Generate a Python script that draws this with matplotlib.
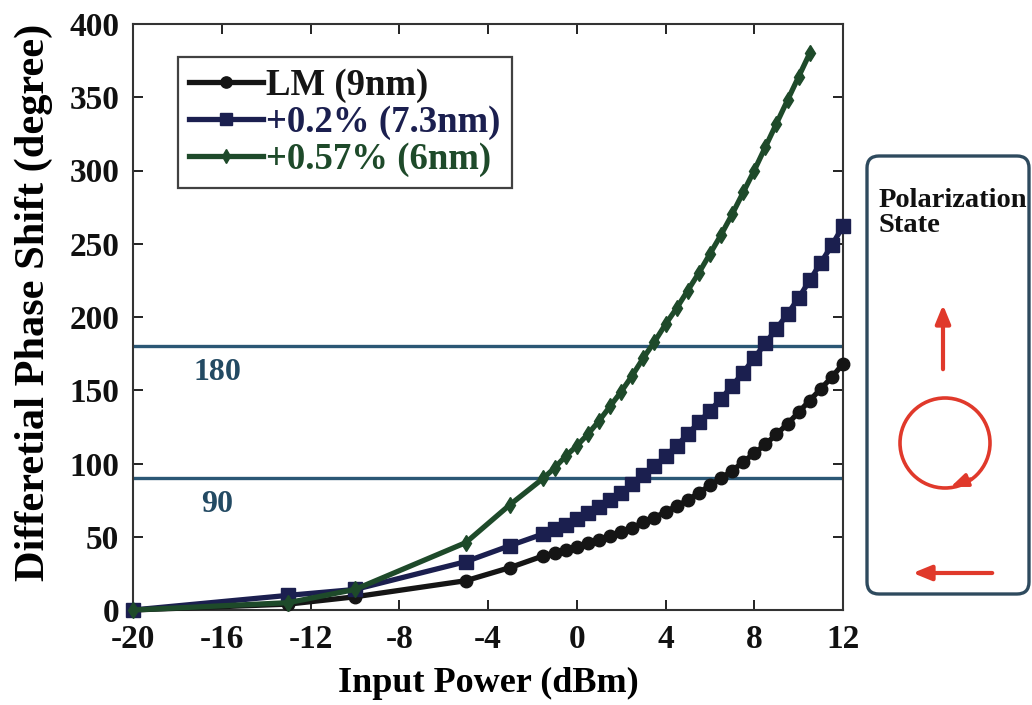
import matplotlib
matplotlib.use("Agg")
import matplotlib.pyplot as plt
from matplotlib.patches import FancyBboxPatch, Circle

# ---------------- data ----------------
lm_power = [-20, -13, -10, -5, -3, -1.5, -1, -0.5, 0, 0.5, 1, 1.5, 2, 2.5, 3, 3.5, 4,
            4.5, 5, 5.5, 6, 6.5, 7, 7.5, 8, 8.5, 9, 9.5, 10, 10.5, 11, 11.5, 12]
lm_shift = [0, 4, 9, 20, 29, 37, 39, 41, 43, 45.5, 48, 50.5, 53, 56, 60, 63, 67,
            71, 75, 80, 85, 90, 95, 101, 107, 113, 120, 127, 135, 143, 151, 159, 168]

s02_power = [-20, -13, -10, -5, -3, -1.5, -1, -0.5, 0, 0.5, 1, 1.5, 2, 2.5, 3, 3.5, 4,
             4.5, 5, 5.5, 6, 6.5, 7, 7.5, 8, 8.5, 9, 9.5, 10, 10.5, 11, 11.5, 12]
s02_shift = [0, 10, 14, 33, 44, 52, 55, 58, 62, 66, 70, 75, 80, 86, 92, 98, 105,
             112, 120, 128, 136, 144, 153, 162, 172, 182, 192, 202, 213, 225, 237, 249, 262]

s057_power = [-20, -13, -10, -5, -3, -1.5, -1, -0.5, 0, 0.5, 1, 1.5, 2, 2.5, 3, 3.5, 4,
              4.5, 5, 5.5, 6, 6.5, 7, 7.5, 8, 8.5, 9, 9.5, 10, 10.5]
s057_shift = [0, 5, 14, 46, 72, 90, 97, 105, 112, 120, 129, 139, 149, 160, 172, 183, 195,
              206, 218, 230, 243, 256, 270, 285, 300, 316, 332, 348, 364, 380]

series_labels = ["LM (9nm)", "+0.2% (7.3nm)", "+0.57% (6nm)"]
ref_levels = [180, 90]
ref_labels = ["180", "90"]
x_ticks = [-20, -16, -12, -8, -4, 0, 4, 8, 12]
y_ticks = [0, 50, 100, 150, 200, 250, 300, 350, 400]

# ---------------- style ----------------
plt.rcParams['font.family'] = ['Liberation Serif', 'DejaVu Serif']
plt.rcParams['font.weight'] = 'bold'
plt.rcParams['axes.unicode_minus'] = False

W, H = 1032, 705
fig = plt.figure(figsize=(W / 100, H / 100), dpi=100)
fig.patch.set_facecolor('white')

ax = fig.add_axes([133 / W, 1 - 610 / H, (843 - 133) / W, (610 - 24) / H])

c_lm = '#151515'
c_02 = '#1b1f4f'
c_057 = '#1e4a2a'
c_ref = '#2b5775'

for y in ref_levels:
    ax.axhline(y, color=c_ref, lw=2.4, zorder=1)
for lab, ty in zip(ref_labels, [162, 72]):
    ax.text(-16.2, ty, lab, color='#234a63', fontsize=23, fontweight='bold',
            ha='center', va='center')

ax.plot(lm_power, lm_shift, color=c_lm, lw=3.8, marker='o', ms=9,
        mfc=c_lm, mec=c_lm, clip_on=False, zorder=3, label=series_labels[0])
ax.plot(s02_power, s02_shift, color=c_02, lw=3.8, marker='s', ms=9.5,
        mfc=c_02, mec=c_02, clip_on=False, zorder=4, label=series_labels[1])
ax.plot(s057_power, s057_shift, color=c_057, lw=3.8, marker='d', ms=8,
        mfc=c_057, mec=c_057, clip_on=False, zorder=5, label=series_labels[2])

ax.set_xlim(-20, 12)
ax.set_ylim(0, 400)
ax.set_xticks(x_ticks)
ax.set_yticks(y_ticks)
ax.tick_params(direction='in', length=7, width=1.3, top=True, right=True,
               labelsize=24, pad=10, colors='#111111')
for lbl in ax.get_xticklabels() + ax.get_yticklabels():
    lbl.set_fontweight('bold')
for sp in ax.spines.values():
    sp.set_linewidth(1.5)
    sp.set_color('#333333')

ax.set_xlabel('Input Power (dBm)', fontsize=26, fontweight='bold')
ax.set_ylabel('Differetial Phase Shift (degree)', fontsize=30.5, fontweight='bold')
ax.yaxis.set_label_coords(-0.113, (610 - 302) / 586)
ax.xaxis.set_label_coords(0.5, -0.098)

leg = ax.legend(loc='upper left', bbox_to_anchor=(45 / 710, 1 - 33 / 586),
                fontsize=26.5, frameon=True, fancybox=False, borderpad=0.3,
                labelspacing=0.05, handlelength=2.0, handletextpad=0.1,
                borderaxespad=0, markerscale=0.9)
leg.get_frame().set_edgecolor('#111111')
leg.get_frame().set_linewidth(1.6)
for t, c in zip(leg.get_texts(), [c_lm, c_02, c_057]):
    t.set_color(c)
    t.set_fontweight('bold')

# ---------------- polarization state panel ----------------
ov = fig.add_axes([0, 0, 1, 1], facecolor='none')
ov.set_xlim(0, W)
ov.set_ylim(H, 0)
ov.axis('off')

box = FancyBboxPatch((867, 156), 162, 438, boxstyle='round,pad=0,rounding_size=12',
                     fc='none', ec='#2e4a5e', lw=2.4)
ov.add_patch(box)
ov.text(879, 188, 'Polarization\nState', fontsize=20.5, fontweight='bold',
        ha='left', va='top', color='#111111', linespacing=1.0)

red = '#e0392b'
ov.annotate('', xy=(943, 302), xytext=(943, 372),
            arrowprops=dict(arrowstyle='-|>,head_length=1.1,head_width=0.45',
                            color=red, lw=3))
ov.add_patch(Circle((945, 443), 45, fc='none', ec=red, lw=2.6))
ov.annotate('', xy=(948, 488), xytext=(973, 478),
            arrowprops=dict(arrowstyle='-|>,head_length=1.0,head_width=0.4',
                            color=red, lw=2.6))
ov.annotate('', xy=(910, 573), xytext=(995, 573),
            arrowprops=dict(arrowstyle='-|>,head_length=1.1,head_width=0.45',
                            color=red, lw=3))

fig.savefig('out.png', dpi=100)
